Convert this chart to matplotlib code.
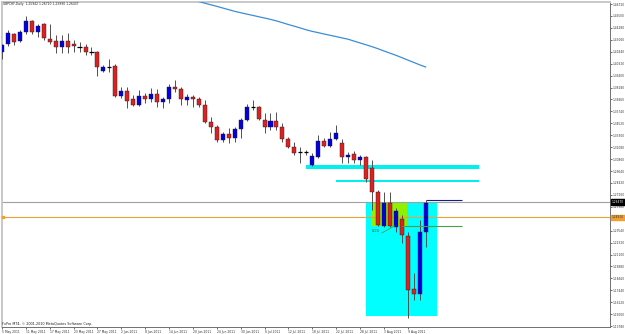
import matplotlib.pyplot as plt
from matplotlib.transforms import blended_transform_factory

# daily bars, 5 May 2011 .. 12 Aug 2011
opens = [1.4181, 1.4263, 1.4365, 1.4294, 1.4386, 1.4498, 1.4386, 1.4468, 1.4314, 1.4294,
         1.4232, 1.4294, 1.4263, 1.4235, 1.4232, 1.4183, 1.4181, 1.3987, 1.4030, 1.4038,
         1.3731, 1.3782, 1.3701, 1.3639, 1.3731, 1.3701, 1.3752, 1.3670, 1.3701, 1.3823,
         1.3803, 1.3690, 1.3721, 1.3701, 1.3639, 1.3465, 1.3414, 1.3281, 1.3343, 1.3302,
         1.3394, 1.3486, 1.3621, 1.3619, 1.3486, 1.3414, 1.3476, 1.3414, 1.3292, 1.3210,
         1.3161, 1.3160, 1.3026, 1.3107, 1.3271, 1.3220, 1.3292, 1.3251, 1.3107, 1.3138,
         1.3077, 1.3107, 1.2995, 1.2750, 1.2402, 1.2637, 1.2392, 1.2474, 1.2300, 1.1758,
         1.1707, 1.2341]
highs = [1.4263, 1.4406, 1.4376, 1.4406, 1.4549, 1.4509, 1.4468, 1.4478, 1.4468, 1.4355,
         1.4355, 1.4376, 1.4304, 1.4284, 1.4263, 1.4232, 1.4191, 1.4048, 1.4110, 1.4059,
         1.3823, 1.3823, 1.3742, 1.3793, 1.3762, 1.3813, 1.3803, 1.3721, 1.3854, 1.3895,
         1.3823, 1.3752, 1.3742, 1.3721, 1.3690, 1.3517, 1.3435, 1.3363, 1.3404, 1.3414,
         1.3506, 1.3650, 1.3690, 1.3629, 1.3557, 1.3557, 1.3568, 1.3455, 1.3312, 1.3261,
         1.3210, 1.3179, 1.3148, 1.3332, 1.3302, 1.3363, 1.3435, 1.3292, 1.3159, 1.3169,
         1.3128, 1.3118, 1.3077, 1.2770, 1.2750, 1.2750, 1.2586, 1.2514, 1.2341, 1.1921,
         1.2463, 1.2668]
lows = [1.4110, 1.4243, 1.4253, 1.4284, 1.4365, 1.4365, 1.4335, 1.4304, 1.4263, 1.4171,
        1.4171, 1.4171, 1.4181, 1.4181, 1.4151, 1.4151, 1.3936, 1.3977, 1.3977, 1.3721,
        1.3711, 1.3609, 1.3629, 1.3629, 1.3660, 1.3670, 1.3619, 1.3609, 1.3660, 1.3772,
        1.3639, 1.3639, 1.3619, 1.3619, 1.3455, 1.3353, 1.3261, 1.3261, 1.3251, 1.3261,
        1.3302, 1.3476, 1.3588, 1.3486, 1.3353, 1.3384, 1.3384, 1.3261, 1.3200, 1.3128,
        1.3046, 1.3128, 1.3015, 1.3097, 1.3210, 1.3210, 1.3281, 1.3046, 1.3046, 1.3046,
        1.3026, 1.2852, 1.2566, 1.2402, 1.2392, 1.2392, 1.2341, 1.2228, 1.1461, 1.1645,
        1.1645, 1.2187]
closes = [1.4253, 1.4376, 1.4284, 1.4386, 1.4498, 1.4386, 1.4447, 1.4324, 1.4284, 1.4232,
          1.4294, 1.4232, 1.4243, 1.4230, 1.4181, 1.4180, 1.4028, 1.4028, 1.4026, 1.3731,
          1.3782, 1.3680, 1.3639, 1.3731, 1.3701, 1.3752, 1.3670, 1.3701, 1.3823, 1.3803,
          1.3701, 1.3721, 1.3701, 1.3639, 1.3465, 1.3414, 1.3281, 1.3343, 1.3302, 1.3394,
          1.3486, 1.3619, 1.3617, 1.3496, 1.3414, 1.3476, 1.3414, 1.3292, 1.3210, 1.3148,
          1.3157, 1.3156, 1.3118, 1.3271, 1.3220, 1.3292, 1.3353, 1.3107, 1.3128, 1.3077,
          1.3107, 1.2883, 1.2750, 1.2412, 1.2637, 1.2402, 1.2555, 1.2310, 1.1747, 1.1707,
          1.2341, 1.2637]

# moving average, bars 30..71 (earlier part is above the window)
ma_start = 30
ma_values = [1.4746, 1.4729, 1.4713, 1.4697, 1.4680, 1.4664, 1.4648, 1.4631, 1.4614, 1.4597,
             1.4583, 1.4569, 1.4556, 1.4542, 1.4529, 1.4515, 1.4499, 1.4481, 1.4462, 1.4445,
             1.4427, 1.4408, 1.4392, 1.4379, 1.4365, 1.4352, 1.4339, 1.4325, 1.4312, 1.4293,
             1.4274, 1.4255, 1.4236, 1.4215, 1.4192, 1.4170, 1.4148, 1.4124, 1.4099, 1.4075,
             1.4050, 1.4028]

date_labels = ["5 May 2011", "11 May 2011", "17 May 2011", "23 May 2011", "27 May 2011",
               "2 Jun 2011", "8 Jun 2011", "14 Jun 2011", "20 Jun 2011", "24 Jun 2011",
               "30 Jun 2011", "6 Jul 2011", "12 Jul 2011", "18 Jul 2011", "22 Jul 2011",
               "28 Jul 2011", "3 Aug 2011", "9 Aug 2011"]
date_step = 4

price_labels = ["1.46720", "1.45500", "1.44280", "1.43060", "1.41840", "1.40620", "1.39400",
                "1.38180", "1.36960", "1.35740", "1.34520", "1.33300", "1.32080", "1.30860",
                "1.29640", "1.28420", "1.27200", "1.25980", "1.24760", "1.23540", "1.22320",
                "1.21100", "1.19880", "1.18660", "1.17440", "1.16220", "1.15000", "1.13780"]

bid = 1.2647
orange_level = 1.2491
# drawn objects: (x0, x1, y0, y1) in bars / price
zone_box = (61.06, 72.95, 1.1482, 1.2647)
los_box = (61.9, 67.9, 1.2402, 1.2637)
band1 = (51.0, 80.0, 1.2985, 1.3026)
band2 = (55.9, 80.0, 1.2847, 1.2877)
navy_line = (71.0, 77.1, 1.2668)
green_line = (67.1, 77.1, 1.2402)

fig = plt.figure(figsize=(6.25, 3.34), dpi=100)
ax = fig.add_axes([2 / 625, 7 / 334, 608 / 625, 325 / 334])
ax.set_xlim(0.08, 101.9)
ax.set_ylim(1.13691, 1.46925)

# rectangles behind the candles
x0, x1, y0, y1 = zone_box
ax.fill_between([x0, x1], y0, y1, color="#00ffff", lw=0, zorder=1)
x0, x1, y0, y1 = los_box
ax.fill_between([x0, x1], y0, y1, color="#8ff000", lw=0, zorder=2)
for b in (band1, band2):
    ax.fill_between([b[0], b[1]], b[2], b[3], color="#00f0f0", lw=0, zorder=2)

# moving average
ax.plot(range(ma_start, ma_start + len(ma_values)), ma_values, color="#3a8ed6", lw=0.9, zorder=3)

# candles
for i in range(len(opens)):
    o, h, l, c = opens[i], highs[i], lows[i], closes[i]
    ax.vlines(i, l, h, color="#505050", lw=0.7, zorder=3)
    if abs(c - o) < 0.0006:
        ax.hlines(o, i - 0.35, i + 0.35, color="black", lw=0.9, zorder=4)
    else:
        col = "#0000e0" if c > o else "#e02020"
        ax.bar(i, abs(c - o), bottom=min(o, c), width=0.68, color=col,
               edgecolor="#202020", lw=0.3, zorder=4)

# horizontal levels
ax.axhline(bid, color="#a0a0a0", lw=0.8, zorder=2)
ax.axhline(orange_level, color="#f0a030", lw=0.8, zorder=2)
ax.plot([0.1], [orange_level], marker="s", ms=2, color="#f0a030", clip_on=False, zorder=5)
ax.hlines(navy_line[2], navy_line[0], navy_line[1], color="#1a1a8c", lw=0.8, zorder=5)
ax.hlines(green_line[2], green_line[0], green_line[1], color="#4aa04a", lw=0.8, zorder=5)
ax.plot([63.65, 65.75], [1.2330, 1.2402], color="#4aa04a", lw=0.6, zorder=5)
ax.text(61.9, 1.2351, "LOS", fontsize=3, color="#2f5f2f", va="center", ha="left", zorder=6)

# axes look like the terminal window
for side in ("top", "left"):
    ax.spines[side].set_color("#c8c8c8")
    ax.spines[side].set_linewidth(1.4)
for side in ("right", "bottom"):
    ax.spines[side].set_color("#707070")
    ax.spines[side].set_linewidth(0.7)

price_values = [float(s) for s in price_labels]
ax.yaxis.tick_right()
ax.set_yticks(price_values, price_labels)
ax.tick_params(axis="y", length=1.2, width=0.5, pad=0.5, labelsize=2.1,
               colors="#303030")
# the label under the orange price box is hidden in the terminal
for lbl in ax.get_yticklabels():
    if lbl.get_text() == "1.24760":
        lbl.set_visible(False)

date_pos = [k * date_step for k in range(len(date_labels))]
ax.set_xticks(date_pos, date_labels)
ax.tick_params(axis="x", length=1.5, width=0.5, pad=0.6, labelsize=2.2,
               colors="#303030")
for lbl in ax.get_xticklabels():
    lbl.set_horizontalalignment("left")

# price boxes at the right scale
tr = blended_transform_factory(fig.transFigure, ax.transData)
ax.text(624 / 625, bid, "1.26470", transform=tr, fontsize=2.1, color="white", va="center",
        ha="right", clip_on=False, zorder=7,
        bbox=dict(boxstyle="square,pad=0.2", fc="black", ec="black"))
ax.text(624 / 625, orange_level, "1.24910", transform=tr, fontsize=2.1, color="#303030",
        va="center", ha="right", clip_on=False, zorder=7,
        bbox=dict(boxstyle="square,pad=0.2", fc="#f0a030", ec="#f0a030"))

fig.text(3 / 625, 1 - 4.5 / 334, "GBPCHF,Daily  1.25942 1.26710 1.23990 1.26437",
         fontsize=2.2, color="#202020", va="center", ha="left")
fig.text(2 / 625, 1 - 324 / 334, "FxPro MT4, \u00a9 2001-2010 MetaQuotes Software Corp.",
         fontsize=2.4, color="#202020", va="center", ha="left")

fig.savefig("out.png", dpi=100)
